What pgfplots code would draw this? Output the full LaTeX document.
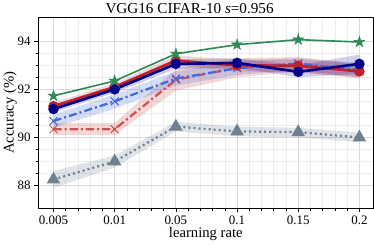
\documentclass[border=0pt]{standalone}
\usepackage{fontspec}
\setmainfont{Liberation Serif}
\usepackage{pgfplots}
\pgfplotsset{compat=1.18}
\usepgfplotslibrary{fillbetween}
\definecolor{cgreen}{RGB}{46,139,87}
\definecolor{cnavy}{RGB}{0,0,139}
\definecolor{cred}{RGB}{196,30,40}
\definecolor{cblue}{RGB}{65,105,225}
\definecolor{cired}{RGB}{205,82,82}
\definecolor{cgray}{RGB}{112,128,144}
\pgfdeclareplotmark{pstar}{%
  \pgfpathmoveto{\pgfpointpolar{90}{\pgfplotmarksize}}%
  \pgfpathlineto{\pgfpointpolar{126}{0.382\pgfplotmarksize}}%
  \pgfpathlineto{\pgfpointpolar{162}{\pgfplotmarksize}}%
  \pgfpathlineto{\pgfpointpolar{198}{0.382\pgfplotmarksize}}%
  \pgfpathlineto{\pgfpointpolar{234}{\pgfplotmarksize}}%
  \pgfpathlineto{\pgfpointpolar{270}{0.382\pgfplotmarksize}}%
  \pgfpathlineto{\pgfpointpolar{306}{\pgfplotmarksize}}%
  \pgfpathlineto{\pgfpointpolar{342}{0.382\pgfplotmarksize}}%
  \pgfpathlineto{\pgfpointpolar{18}{\pgfplotmarksize}}%
  \pgfpathlineto{\pgfpointpolar{54}{0.382\pgfplotmarksize}}%
  \pgfpathclose
  \pgfusepathqfillstroke}
\begin{document}
\begin{tikzpicture}
\begin{axis}[
  scale only axis, width=330bp, height=188bp,
  xmin=-0.25, xmax=5.23, ymin=87.05, ymax=95,
  xtick={0,1,2,3,4,5},
  xticklabels={0.005,0.01,0.05,0.1,0.15,0.2},
  ytick={88,90,92,94},
  minor x tick num=4, minor y tick num=3,
  grid=both,
  major grid style={draw=gray!30, line width=1pt},
  minor grid style={draw=gray!15, line width=0.6pt},
  tick align=outside, tick pos=left,
  major tick length=4pt, minor tick length=2.5pt,
  every tick/.style={black, line width=0.6pt},
  axis line style={line width=0.8pt},
  tick label style={font=\fontsize{12.8}{14}\selectfont},
  label style={font=\fontsize{14.5}{16}\selectfont},
  title style={font=\fontsize{15}{17}\selectfont, yshift=-6pt, xshift=-16bp},
  /pgf/number format/assume math mode=true,
  xlabel={learning rate}, ylabel={Accuracy (\%)},
  xlabel style={yshift=4pt}, ylabel style={yshift=-6pt},
  title={VGG16 CIFAR-10 \textit{s}=0.956},
  clip=true,
]
% gray band
\addplot[name path=gu, draw=none, forget plot] coordinates {(0,88.6)(1,89.25)(2,90.65)(3,90.45)(4,90.4)(5,90.2)};
\addplot[name path=gl, draw=none, forget plot] coordinates {(0,87.9)(1,88.75)(2,90.25)(3,90.05)(4,90.0)(5,89.8)};
\addplot[cgray, fill opacity=0.22, forget plot] fill between[of=gu and gl];
% red dashdot band
\addplot[name path=ru, draw=none, forget plot] coordinates {(0,90.6)(1,90.6)(2,92.85)(3,93.3)(4,93.35)(5,93.05)};
\addplot[name path=rl, draw=none, forget plot] coordinates {(0,90.1)(1,90.1)(2,91.95)(3,92.5)(4,92.75)(5,92.45)};
\addplot[cired, fill opacity=0.22, forget plot] fill between[of=ru and rl];
% blue dashdot band
\addplot[name path=bu, draw=none, forget plot] coordinates {(0,90.95)(1,91.8)(2,92.75)(3,93.15)(4,93.3)(5,93.1)};
\addplot[name path=bl, draw=none, forget plot] coordinates {(0,90.4)(1,91.2)(2,92.15)(3,92.6)(4,92.8)(5,92.5)};
\addplot[cblue, fill opacity=0.22, forget plot] fill between[of=bu and bl];
% red solid band
\addplot[name path=su, draw=none, forget plot] coordinates {(0,91.45)(1,92.25)(2,93.4)(3,93.25)(4,93.25)(5,93.05)};
\addplot[name path=sl, draw=none, forget plot] coordinates {(0,91.15)(1,91.95)(2,93.0)(3,92.75)(4,92.7)(5,92.5)};
\addplot[cred, fill opacity=0.18, forget plot] fill between[of=su and sl];
% navy band
\addplot[name path=nu, draw=none, forget plot] coordinates {(0,91.35)(1,92.15)(2,93.25)(3,93.3)(4,93.0)(5,93.45)};
\addplot[name path=nl, draw=none, forget plot] coordinates {(0,91.05)(1,91.85)(2,92.85)(3,92.9)(4,92.5)(5,92.65)};
\addplot[cnavy, fill opacity=0.18, forget plot] fill between[of=nu and nl];

% lines
\addplot[cgray, line width=2.2pt, dash pattern=on 2pt off 3pt, mark=triangle*, mark size=5.5pt, mark options={solid}]
  coordinates {(0,88.25)(1,89.0)(2,90.45)(3,90.25)(4,90.22)(5,90.0)};
\addplot[cired, line width=2.2pt, dash pattern=on 8pt off 3pt on 2pt off 3pt, mark=x, mark size=5.5pt, mark options={solid, line width=1pt}]
  coordinates {(0,90.34)(1,90.34)(2,92.4)(3,92.9)(4,93.05)(5,92.75)};
\addplot[cblue, line width=2.2pt, dash pattern=on 8pt off 3pt on 2pt off 3pt, mark=x, mark size=5.5pt, mark options={solid, line width=1pt}]
  coordinates {(0,90.68)(1,91.5)(2,92.45)(3,92.88)(4,93.08)(5,92.8)};
\addplot[cred, line width=2.6pt, mark=*, mark size=3.8pt]
  coordinates {(0,91.3)(1,92.1)(2,93.2)(3,93.0)(4,92.98)(5,92.75)};
\addplot[cnavy, line width=2.6pt, mark=*, mark size=3.8pt]
  coordinates {(0,91.18)(1,92.0)(2,93.06)(3,93.1)(4,92.73)(5,93.06)};
\addplot[cgreen, line width=1.6pt, mark=pstar, mark size=5.5pt, mark options={fill=cgreen, line width=0.6pt}]
  coordinates {(0,91.73)(1,92.35)(2,93.48)(3,93.86)(4,94.07)(5,93.97)};
\end{axis}
\end{tikzpicture}
\end{document}
